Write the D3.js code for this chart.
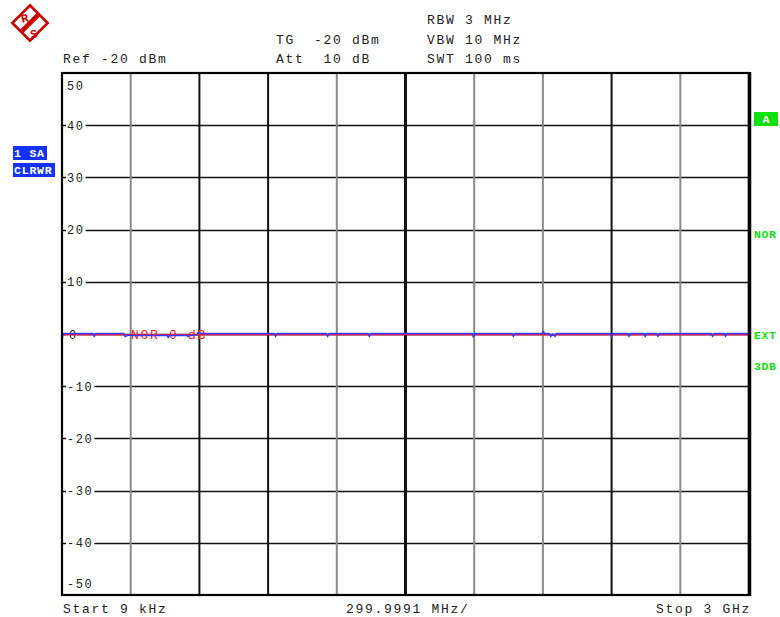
<!DOCTYPE html>
<html>
<head>
<meta charset="utf-8">
<script src="https://cdn.jsdelivr.net/npm/d3@7/dist/d3.min.js"></script>
<style>
  body { margin: 0; background: #fff; }
  svg { display: block; }
  text { font-family: "Liberation Mono", "DejaVu Sans Mono", monospace; }
</style>
</head>
<body>
<svg width="780" height="617"></svg>
<script>
// sweep settings (MHz, dB)
const startMHz = 0.009;
const stopMHz = 3000;
const levelTicks = [50, 40, 30, 20, 10, 0, -10, -20, -30, -40, -50];

// trace 1 (blue, clear/write) : [freq MHz, level dB]
const trace1 = [
  [0.009, -1.3], [5, 0.1], [136, 0.1], [141, -0.5], [146, 0.1],
  [270, 0.1], [275, -0.5], [290, -0.2], [300, -0.3], [459, -0.3],
  [464, -0.7], [469, -0.3], [545, -0.3], [550, -0.5], [555, -0.3],
  [588, -0.2], [594, 0.3], [610, 0.1], [928, 0.1], [933, -0.5],
  [938, 0.1], [1155, 0.1], [1160, -0.5], [1165, 0.1], [1337, 0.1],
  [1342, -0.5], [1347, 0.1], [1791, 0.1], [1796, -0.6], [1801, 0.1],
  [1966, 0.1], [1971, -0.5], [1976, 0.1], [2097, 0.1], [2102, 0.5],
  [2107, 0.1], [2129, 0.1], [2134, -0.5], [2143, 0.0], [2153, -0.5],
  [2158, 0.1], [2395, 0.1], [2400, -0.6], [2405, 0.1], [2471, 0.1],
  [2476, -0.5], [2481, 0.1], [2542, 0.1], [2547, -0.5], [2552, 0.1],
  [2598, 0.1], [2603, -0.5], [2608, 0.1], [2836, 0.1], [2841, -0.5],
  [2846, 0.1], [2892, 0.1], [2897, -0.5], [2902, 0.1], [3000, 0.1]
];

// normalisation reference line (red)
const normLine = [[0.009, -0.15], [3000, -0.15]];

const headerLines = [
  { x: 427, y: 24, t: 'RBW 3 MHz' },
  { x: 276, y: 44, t: 'TG  -20 dBm' },
  { x: 427, y: 44, t: 'VBW 10 MHz' },
  { x: 63, y: 63, t: 'Ref -20 dBm' },
  { x: 276, y: 63, t: 'Att  10 dB' },
  { x: 427, y: 63, t: 'SWT 100 ms' }
];

const svg = d3.select('svg');

const x = d3.scaleLinear().domain([startMHz, stopMHz]).range([62, 749]);
const y = d3.scaleLinear().domain([-50, 50]).range([595, 73]);

// ---- R&S logo
const logo = svg.append('g')
  .attr('transform', 'translate(30,23)');
const rot = logo.append('g').attr('transform', 'rotate(-45)');
rot.append('rect')
  .attr('x', -12.5).attr('y', -12.5)
  .attr('width', 25).attr('height', 25)
  .attr('fill', '#fff')
  .attr('stroke', '#cc0000')
  .attr('stroke-width', 2.6);
rot.append('rect')
  .attr('x', -12.5).attr('y', -2.4)
  .attr('width', 25).attr('height', 4.8)
  .attr('fill', '#cc0000');
logo.append('text')
  .attr('x', -9).attr('y', -1)
  .attr('font-family', 'DejaVu Sans')
  .attr('font-weight', 'bold')
  .attr('font-size', 12)
  .attr('fill', '#cc0000')
  .attr('transform', 'rotate(-15,-5,-5)')
  .text('R');
logo.append('text')
  .attr('x', 0).attr('y', 15)
  .attr('font-family', 'DejaVu Sans')
  .attr('font-weight', 'bold')
  .attr('font-size', 12)
  .attr('fill', '#cc0000')
  .attr('transform', 'rotate(-15,4,10)')
  .text('S');

// ---- header
svg.append('g')
  .selectAll('text')
  .data(headerLines)
  .enter()
  .append('text')
    .attr('x', d => d.x)
    .attr('y', d => d.y)
    .attr('font-size', 13)
    .attr('letter-spacing', 1.7)
    .attr('fill', '#222')
    .style('white-space', 'pre')
    .text(d => d.t);

// ---- grid
const grid = svg.append('g').attr('class', 'grid');
const divFreqs = d3.range(1, 10).map(i => startMHz + i * (stopMHz - startMHz) / 10);
const vStyle = ['g', 'k', 'k', 'g', 'K', 'g', 'g', 'k', 'g'];

grid.selectAll('line.h')
  .data(levelTicks.slice(1, -1))
  .enter()
  .append('line')
    .attr('class', 'h')
    .attr('x1', x(startMHz))
    .attr('x2', x(stopMHz))
    .attr('y1', d => Math.round(y(d)) + 0.5)
    .attr('y2', d => Math.round(y(d)) + 0.5)
    .attr('stroke', '#111')
    .attr('stroke-width', 1.4);

grid.selectAll('line.v')
  .data(divFreqs)
  .enter()
  .append('line')
    .attr('class', 'v')
    .attr('x1', d => x(d))
    .attr('x2', d => x(d))
    .attr('y1', y(50))
    .attr('y2', y(-50))
    .attr('stroke', (d, i) => (vStyle[i] === 'g' ? '#8a8a8a' : '#111'))
    .attr('stroke-width', (d, i) => (vStyle[i] === 'K' ? 3 : 2));

// level labels
const lbl = svg.append('g').attr('class', 'levels');
const lblY = d => (d === 50 ? y(d) + 12 : d === -50 ? y(d) - 12 : y(d));
const lblG = lbl.selectAll('g')
  .data(levelTicks)
  .enter()
  .append('g')
    .attr('transform', d => `translate(66,${lblY(d)})`);
lblG.append('rect')
  .attr('x', 0)
  .attr('y', -6)
  .attr('width', d => String(d).length * 8.8 + 2)
  .attr('height', 12)
  .attr('fill', '#fff');
lblG.append('text')
  .attr('x', d => (d === 0 ? 3 : 1))
  .attr('y', 4.5)
  .attr('font-size', 12)
  .attr('letter-spacing', 1.6)
  .attr('fill', '#222')
  .text(d => d);

// ---- traces
const line = d3.line()
  .x(d => x(d[0]))
  .y(d => y(d[1]));

svg.append('path')
  .datum(normLine)
  .attr('d', line)
  .attr('fill', 'none')
  .attr('stroke', '#d81848')
  .attr('stroke-width', 1.5);

svg.append('text')
  .attr('x', 131)
  .attr('y', y(0) + 4.5)
  .attr('font-size', 13)
  .attr('letter-spacing', 1.7)
  .attr('fill', '#ff2020')
  .style('white-space', 'pre')
  .text('NOR 0 dB');

svg.append('path')
  .datum(trace1)
  .attr('d', line)
  .attr('fill', 'none')
  .attr('stroke', '#3c3cff')
  .attr('stroke-width', 1.5)
  .attr('stroke-linejoin', 'round');

// ---- frame
svg.append('rect')
  .attr('x', 62)
  .attr('y', 73)
  .attr('width', 687)
  .attr('height', 522)
  .attr('fill', 'none')
  .attr('stroke', '#000')
  .attr('stroke-width', 2.2);
svg.append('line')
  .attr('x1', 749.5).attr('x2', 749.5)
  .attr('y1', 72).attr('y2', 596)
  .attr('stroke', '#000')
  .attr('stroke-width', 3.5);

// ---- side annotations
const blueTags = [
  { t: '1 SA', y: 146, w: 34 },
  { t: 'CLRWR', y: 163, w: 42 }
];
const tg = svg.append('g').selectAll('g')
  .data(blueTags)
  .enter()
  .append('g');
tg.append('rect')
  .attr('x', 13)
  .attr('y', d => d.y)
  .attr('width', d => d.w)
  .attr('height', 14)
  .attr('fill', '#1432ff');
tg.append('text')
  .attr('x', 14)
  .attr('y', d => d.y + 11)
  .attr('font-family', 'Liberation Serif')
  .attr('font-weight', 'bold')
  .attr('font-size', 11.5)
  .attr('letter-spacing', 0.8)
  .attr('fill', '#fff')
  .style('white-space', 'pre')
  .text(d => d.t);

svg.append('rect')
  .attr('x', 754)
  .attr('y', 112)
  .attr('width', 24)
  .attr('height', 14)
  .attr('fill', '#10e010');
svg.append('text')
  .attr('x', 766)
  .attr('y', 123)
  .attr('text-anchor', 'middle')
  .attr('font-family', 'Liberation Serif')
  .attr('font-weight', 'bold')
  .attr('font-size', 11.5)
  .attr('fill', '#fff')
  .text('A');

const greenTags = [
  { t: 'NOR', y: 234 },
  { t: 'EXT', y: 335 },
  { t: '3DB', y: 366 }
];
svg.append('g').selectAll('text')
  .data(greenTags)
  .enter()
  .append('text')
    .attr('x', 754)
    .attr('y', d => d.y + 4)
    .attr('font-family', 'Liberation Serif')
    .attr('font-weight', 'bold')
    .attr('font-size', 11.5)
    .attr('letter-spacing', 0.6)
    .attr('fill', '#10e010')
    .text(d => d.t);

// ---- footer
const footer = [
  { x: 63, anchor: 'start', t: 'Start 9 kHz' },
  { x: 346, anchor: 'start', t: '299.9991 MHz/' },
  { x: 751, anchor: 'end', t: 'Stop 3 GHz' }
];
svg.append('g').selectAll('text')
  .data(footer)
  .enter()
  .append('text')
    .attr('x', d => d.x)
    .attr('y', 613)
    .attr('text-anchor', d => d.anchor)
    .attr('font-size', 13)
    .attr('letter-spacing', 1.7)
    .attr('fill', '#222')
    .style('white-space', 'pre')
    .text(d => d.t);
</script>
</body>
</html>
